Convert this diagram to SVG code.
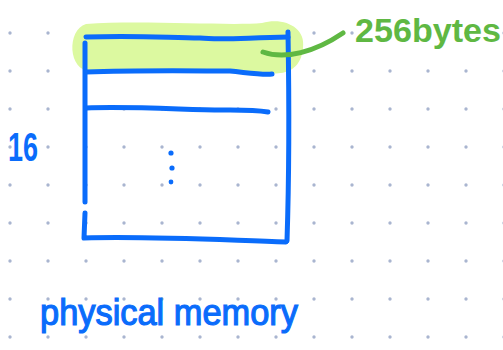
<svg xmlns="http://www.w3.org/2000/svg" width="503" height="350" viewBox="0 0 503 350">
<defs>
<style>
.dot{fill:#a9b5d0}
.pen{fill:none;stroke:#0a6cfb;stroke-width:5;stroke-linecap:round;stroke-linejoin:round}
.gpen{fill:none;stroke:#5fb843;stroke-width:5;stroke-linecap:round}
.hand{font-family:"Liberation Sans","DejaVu Sans",sans-serif;font-weight:bold}
</style>
<pattern id="grid" x="-9" y="-24" width="38" height="38" patternUnits="userSpaceOnUse">
<circle class="dot" cx="19" cy="19" r="1.7"/>
</pattern>
</defs>
<rect width="503" height="350" fill="#ffffff"/>
<g id="grid-dots">
<rect x="0" y="0" width="503" height="350" fill="url(#grid)"/>
</g>
<g id="highlight">
<path d="M86,24 C140,20 230,26 262,23 C285,17 306,28 303,48 C301,70 285,75 270,73 C220,71 140,67 92,71 C68,73 66,30 86,24 Z" fill="#dcf9a0"/>
</g>
<g id="memory-box">
<path class="pen" d="M86,37 C140,35 170,38 200,38 C220,40 240,38 288,37"/>
<path class="pen" d="M85,43 L85,202"/>
<path class="pen" d="M85,213 L84,238 C150,236 220,240 286,242"/>
<path class="pen" d="M288,32 C289,90 289,180 287,241"/>
<path class="pen" d="M86,72 C140,70 200,71 230,71 C250,73 262,75 272,74"/>
<path class="pen" d="M86,108 C140,106 200,111 230,110 C250,110 262,111 268,112"/>
<circle cx="171" cy="153" r="2.6" fill="#0a6cfb"/>
<circle cx="172" cy="168" r="2.6" fill="#0a6cfb"/>
<circle cx="171" cy="182" r="2.4" fill="#0a6cfb"/>
</g>
<g id="connectors">
<path class="gpen" d="M263,52 C285,60 315,52 343,33"/>
</g>
<g id="label-256">
<text class="hand" x="355" y="42" font-size="34" fill="#5fb843" textLength="146" lengthAdjust="spacingAndGlyphs">256bytes</text>
</g>
<g id="label-16">
<text class="hand" x="8" y="161" font-size="40" fill="#0a6cfb" textLength="30" lengthAdjust="spacingAndGlyphs">16</text>
</g>
<g id="label-physical">
<text x="40" y="325" font-size="36" fill="#0a6cfb" stroke="#0a6cfb" stroke-width="1.2" font-family="Liberation Sans, DejaVu Sans, sans-serif" textLength="258" lengthAdjust="spacingAndGlyphs">physical memory</text>
</g>
</svg>
